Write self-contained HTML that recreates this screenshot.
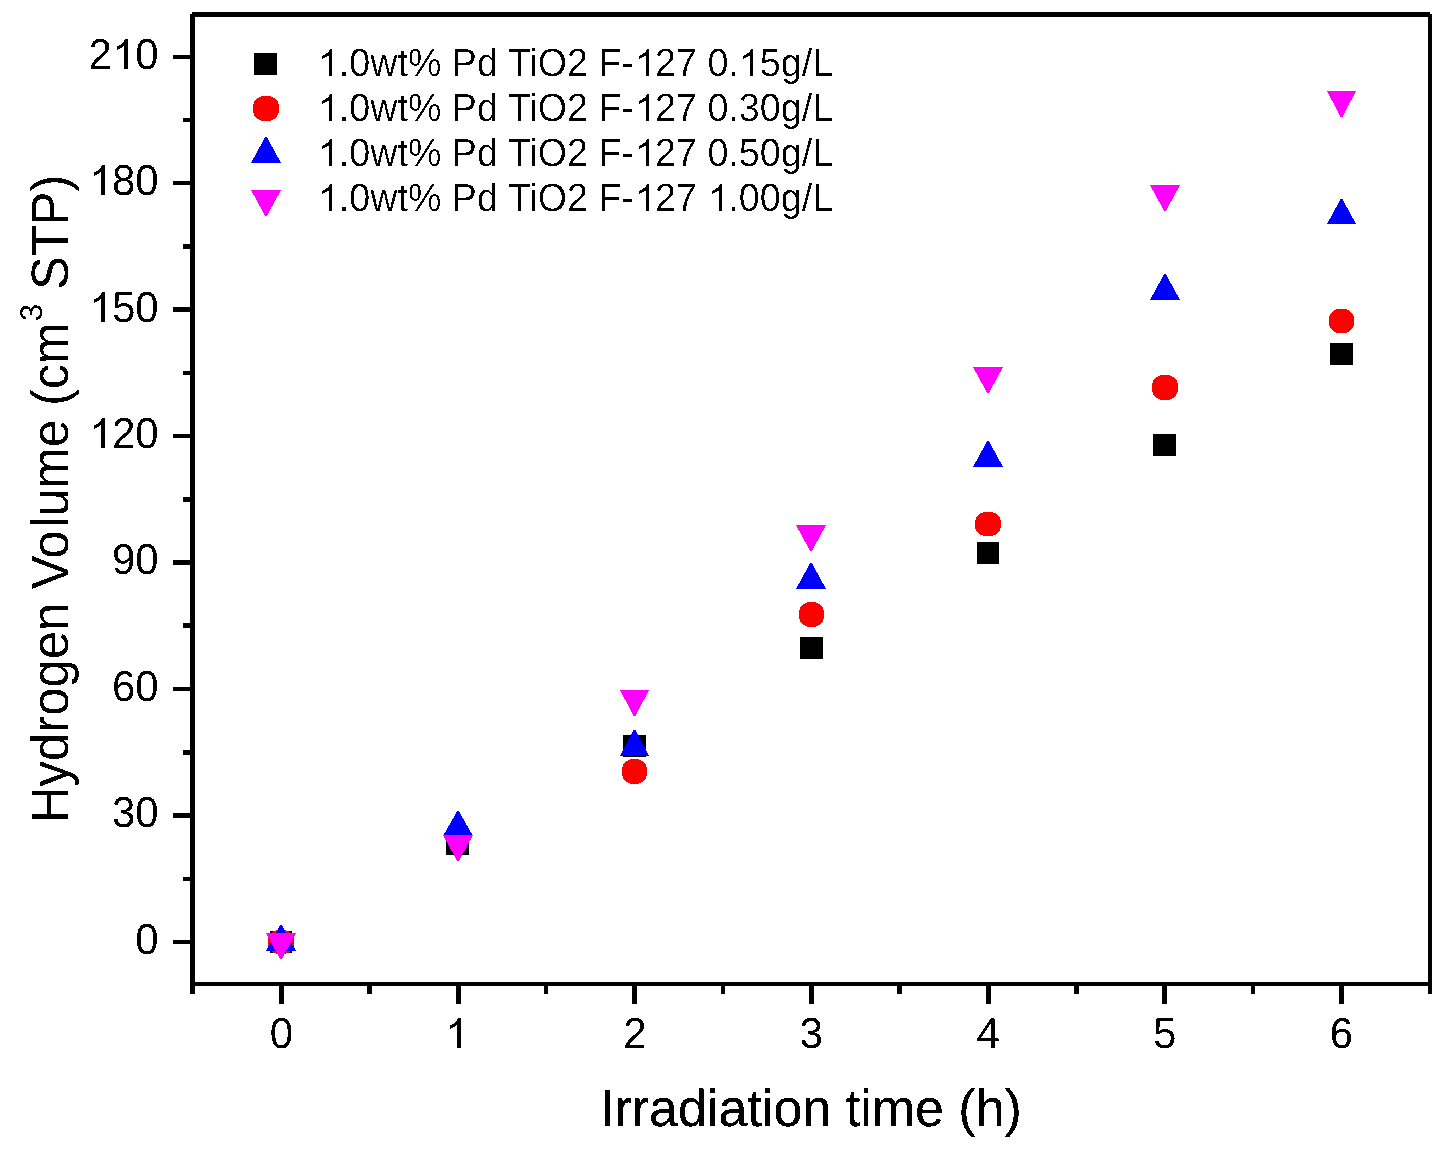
<!DOCTYPE html>
<html><head><meta charset="utf-8"><style>
html,body{margin:0;padding:0;background:#fff;}
body{width:1447px;height:1152px;overflow:hidden;}
svg{display:block;will-change:transform;}
text{font-family:"Liberation Sans",sans-serif;fill:#000;text-rendering:geometricPrecision;}
</style></head><body>
<svg width="1447" height="1152" viewBox="0 0 1447 1152">
<rect width="1447" height="1152" fill="#fff"/>
<g fill="#000" shape-rendering="crispEdges">
<rect x="190" y="14" width="5" height="980"/>
<rect x="192" y="12" width="1238" height="5"/>
<rect x="1428" y="14" width="4" height="980"/>
<rect x="190" y="982" width="1242" height="4"/>
<rect x="173" y="55" width="18" height="4"/>
<rect x="173" y="181" width="18" height="4"/>
<rect x="173" y="307" width="18" height="5"/>
<rect x="173" y="434" width="18" height="4"/>
<rect x="173" y="560" width="18" height="5"/>
<rect x="173" y="687" width="18" height="4"/>
<rect x="173" y="813" width="18" height="5"/>
<rect x="173" y="940" width="18" height="4"/>
<rect x="183" y="877" width="8" height="4"/>
<rect x="183" y="750" width="8" height="5"/>
<rect x="183" y="623" width="8" height="5"/>
<rect x="183" y="497" width="8" height="5"/>
<rect x="183" y="371" width="8" height="4"/>
<rect x="183" y="244" width="8" height="5"/>
<rect x="183" y="118" width="8" height="4"/>
<rect x="279.00" y="985" width="5" height="19"/>
<rect x="455.65" y="985" width="5" height="19"/>
<rect x="632.30" y="985" width="5" height="19"/>
<rect x="808.95" y="985" width="5" height="19"/>
<rect x="985.60" y="985" width="5" height="19"/>
<rect x="1162.25" y="985" width="5" height="19"/>
<rect x="1338.90" y="985" width="5" height="19"/>
<rect x="367" y="985" width="5" height="9"/>
<rect x="544" y="985" width="4" height="9"/>
<rect x="721" y="985" width="4" height="9"/>
<rect x="897" y="985" width="5" height="9"/>
<rect x="1074" y="985" width="5" height="9"/>
<rect x="1251" y="985" width="4" height="9"/>
</g>
<defs><filter id="bin" filterUnits="userSpaceOnUse" x="0" y="0" width="1447" height="1152"><feComponentTransfer><feFuncA type="discrete" tableValues="0 1"/></feComponentTransfer></filter><filter id="bin2" filterUnits="userSpaceOnUse" x="0" y="0" width="1447" height="1152"><feComponentTransfer><feFuncA type="discrete" tableValues="0 0 1"/></feComponentTransfer></filter><filter id="bin3" filterUnits="userSpaceOnUse" x="0" y="0" width="1447" height="1152"><feComponentTransfer><feFuncA type="discrete" tableValues="0 1 1"/></feComponentTransfer></filter></defs>
<g filter="url(#bin)">
<text id="t0" transform="translate(158.60,953.60) scale(1,1.03)" text-anchor="end" font-size="42">0</text>
<text id="t1" transform="translate(158.60,827.19) scale(1,1.03)" text-anchor="end" font-size="42">30</text>
<text id="t2" transform="translate(158.60,700.77) scale(1,1.03)" text-anchor="end" font-size="42">60</text>
<text id="t3" transform="translate(158.60,574.36) scale(1,1.03)" text-anchor="end" font-size="42">90</text>
<text id="t4" transform="translate(158.60,447.94) scale(1,1.03)" text-anchor="end" font-size="42"> 20</text>
<path d="M105 448L101 448L101 424.83Q99.69 426.08 97.56 427.34Q95.42 428.59 93.73 429.21L93.73 425.70Q96.78 424.26 99.06 422.22Q101.34 420.18 102.29 418.27L105 418.27Z"/>
<text id="t5" transform="translate(158.60,321.53) scale(1,1.03)" text-anchor="end" font-size="42"> 50</text>
<path d="M105 322L101 322L101 298.83Q99.69 300.08 97.56 301.34Q95.42 302.59 93.73 303.21L93.73 299.70Q96.78 298.26 99.06 296.22Q101.34 294.18 102.29 292.27L105 292.27Z"/>
<text id="t6" transform="translate(158.60,195.12) scale(1,1.03)" text-anchor="end" font-size="42"> 80</text>
<path d="M105 195L101 195L101 171.83Q99.69 173.08 97.56 174.34Q95.42 175.59 93.73 176.21L93.73 172.70Q96.78 171.26 99.06 169.22Q101.34 167.18 102.29 165.27L105 165.27Z"/>
<text id="t7" transform="translate(158.60,68.70) scale(1,1.03)" text-anchor="end" font-size="42">2 0</text>
<path d="M128 69L124 69L124 45.83Q122.69 47.08 120.56 48.34Q118.42 49.59 116.73 50.21L116.73 46.70Q119.78 45.26 122.06 43.22Q124.34 41.18 125.29 39.27L128 39.27Z"/>
<text id="t8" transform="translate(281.50,1047.60) scale(1,1.03)" text-anchor="middle" font-size="42">0</text>
<text id="t9" transform="translate(458.15,1047.60) scale(1,1.03)" text-anchor="middle" font-size="42"> </text>
<path d="M461 1048L457 1048L457 1024.83Q455.69 1026.08 453.56 1027.34Q451.42 1028.59 449.73 1029.21L449.73 1025.70Q452.78 1024.26 455.06 1022.22Q457.34 1020.18 458.29 1018.27L461 1018.27Z"/>
<text id="t10" transform="translate(634.80,1047.60) scale(1,1.03)" text-anchor="middle" font-size="42">2</text>
<text id="t11" transform="translate(811.45,1047.60) scale(1,1.03)" text-anchor="middle" font-size="42">3</text>
<text id="t12" transform="translate(988.10,1047.60) scale(1,1.03)" text-anchor="middle" font-size="42">4</text>
<text id="t13" transform="translate(1164.75,1047.60) scale(1,1.03)" text-anchor="middle" font-size="42">5</text>
<text id="t14" transform="translate(1341.40,1047.60) scale(1,1.03)" text-anchor="middle" font-size="42">6</text>
</g><g filter="url(#bin2)">
<text id="t15" transform="translate(317.80,75.80) scale(1,1.045)" text-anchor="start" font-size="37.7"> .0wt% Pd TiO2 F- 27 0. 5g/L</text>
<path d="M332 76L329 76L329 55.20Q327.82 56.33 325.65 57.45Q323.38 58.58 321.57 59.14L321.57 55.98Q324.83 54.69 327.26 52.86Q329.31 51.03 330.16 49.31L332 49.31Z"/>
<path d="M649 76L646 76L646 55.20Q644.82 56.33 642.65 57.45Q640.38 58.58 638.57 59.14L638.57 55.98Q641.83 54.69 644.26 52.86Q646.31 51.03 647.16 49.31L649 49.31Z"/>
<path d="M753 76L750 76L750 55.20Q748.82 56.33 746.65 57.45Q744.38 58.58 742.57 59.14L742.57 55.98Q745.83 54.69 748.26 52.86Q750.31 51.03 751.16 49.31L753 49.31Z"/>
<text id="t16" transform="translate(317.80,120.80) scale(1,1.045)" text-anchor="start" font-size="37.7"> .0wt% Pd TiO2 F- 27 0.30g/L</text>
<path d="M332 121L329 121L329 100.20Q327.82 101.33 325.65 102.45Q323.38 103.58 321.57 104.14L321.57 100.98Q324.83 99.69 327.26 97.86Q329.31 96.03 330.16 94.31L332 94.31Z"/>
<path d="M649 121L646 121L646 100.20Q644.82 101.33 642.65 102.45Q640.38 103.58 638.57 104.14L638.57 100.98Q641.83 99.69 644.26 97.86Q646.31 96.03 647.16 94.31L649 94.31Z"/>
<text id="t17" transform="translate(317.80,165.80) scale(1,1.045)" text-anchor="start" font-size="37.7"> .0wt% Pd TiO2 F- 27 0.50g/L</text>
<path d="M332 166L329 166L329 145.20Q327.82 146.33 325.65 147.45Q323.38 148.58 321.57 149.14L321.57 145.98Q324.83 144.69 327.26 142.86Q329.31 141.03 330.16 139.31L332 139.31Z"/>
<path d="M649 166L646 166L646 145.20Q644.82 146.33 642.65 147.45Q640.38 148.58 638.57 149.14L638.57 145.98Q641.83 144.69 644.26 142.86Q646.31 141.03 647.16 139.31L649 139.31Z"/>
<text id="t18" transform="translate(317.80,210.80) scale(1,1.045)" text-anchor="start" font-size="37.7"> .0wt% Pd TiO2 F- 27  .00g/L</text>
<path d="M332 211L329 211L329 190.20Q327.82 191.33 325.65 192.45Q323.38 193.58 321.57 194.14L321.57 190.98Q324.83 189.69 327.26 187.86Q329.31 186.03 330.16 184.31L332 184.31Z"/>
<path d="M649 211L646 211L646 190.20Q644.82 191.33 642.65 192.45Q640.38 193.58 638.57 194.14L638.57 190.98Q641.83 189.69 644.26 187.86Q646.31 186.03 647.16 184.31L649 184.31Z"/>
<path d="M722 211L719 211L719 190.20Q717.82 191.33 715.65 192.45Q713.38 193.58 711.57 194.14L711.57 190.98Q714.83 189.69 717.26 187.86Q719.31 186.03 720.16 184.31L722 184.31Z"/>
</g><g filter="url(#bin3)">
<text x="600" y="1126" font-size="52">Irradiation time (h)</text>
</g><g filter="url(#bin)">
<text transform="translate(68.2,823.1) rotate(-90) scale(0.968,1)" font-size="52.5">Hydrogen</text>
<text transform="translate(68.2,589.3) rotate(-90) scale(0.962,1)" font-size="52.5">Vo</text>
<text transform="translate(68.2,527.6) rotate(-90) scale(0.95,1)" font-size="52.5">lume (cm</text>
<text transform="translate(41.7,321.2) rotate(-90)" font-size="31.4">3</text>
<text transform="translate(68.2,289.8) rotate(-90) scale(0.962,1)" font-size="52.5">STP)</text>
</g>
<defs><filter id="binM" filterUnits="userSpaceOnUse" x="0" y="0" width="1447" height="1152"><feComponentTransfer><feFuncA type="discrete" tableValues="0 1"/></feComponentTransfer></filter></defs>
<g fill="#000" shape-rendering="crispEdges">
<rect x="270" y="931" width="22" height="22"/>
<rect x="446" y="833" width="23" height="22"/>
<rect x="623" y="735" width="23" height="22"/>
<rect x="800" y="637" width="23" height="22"/>
<rect x="977" y="542" width="22" height="22"/>
<rect x="1153" y="434" width="23" height="22"/>
<rect x="1330" y="343" width="23" height="22"/>
<rect x="254" y="53" width="23" height="22"/>
</g><g fill="#f00" filter="url(#binM)">
<polygon points="294.00,942.00 293.96,943.57 293.84,944.79 293.63,945.89 293.34,946.91 292.98,947.85 292.53,948.73 292.01,949.55 291.41,950.30 290.74,950.99 289.99,951.61 289.18,952.16 288.30,952.64 287.34,953.06 286.32,953.39 285.21,953.66 284.02,953.85 282.70,953.96 281.00,954.00 279.30,953.96 277.98,953.85 276.79,953.66 275.68,953.39 274.66,953.06 273.70,952.64 272.82,952.16 272.01,951.61 271.26,950.99 270.59,950.30 269.99,949.55 269.47,948.73 269.02,947.85 268.66,946.91 268.37,945.89 268.16,944.79 268.04,943.57 268.00,942.00 268.04,940.43 268.16,939.21 268.37,938.11 268.66,937.09 269.02,936.15 269.47,935.27 269.99,934.45 270.59,933.70 271.26,933.01 272.01,932.39 272.82,931.84 273.70,931.36 274.66,930.94 275.68,930.61 276.79,930.34 277.98,930.15 279.30,930.04 281.00,930.00 282.70,930.04 284.02,930.15 285.21,930.34 286.32,930.61 287.34,930.94 288.30,931.36 289.18,931.84 289.99,932.39 290.74,933.01 291.41,933.70 292.01,934.45 292.53,935.27 292.98,936.15 293.34,937.09 293.63,938.11 293.84,939.21 293.96,940.43"/>
<polygon points="647.00,771.50 646.96,773.14 646.84,774.41 646.64,775.55 646.37,776.61 646.02,777.60 645.59,778.52 645.09,779.37 644.51,780.15 643.86,780.86 643.15,781.51 642.37,782.09 641.52,782.59 640.60,783.02 639.61,783.37 638.55,783.64 637.41,783.84 636.14,783.96 634.50,784.00 632.86,783.96 631.59,783.84 630.45,783.64 629.39,783.37 628.40,783.02 627.48,782.59 626.63,782.09 625.85,781.51 625.14,780.86 624.49,780.15 623.91,779.37 623.41,778.52 622.98,777.60 622.63,776.61 622.36,775.55 622.16,774.41 622.04,773.14 622.00,771.50 622.04,769.86 622.16,768.59 622.36,767.45 622.63,766.39 622.98,765.40 623.41,764.48 623.91,763.63 624.49,762.85 625.14,762.14 625.85,761.49 626.63,760.91 627.48,760.41 628.40,759.98 629.39,759.63 630.45,759.36 631.59,759.16 632.86,759.04 634.50,759.00 636.14,759.04 637.41,759.16 638.55,759.36 639.61,759.63 640.60,759.98 641.52,760.41 642.37,760.91 643.15,761.49 643.86,762.14 644.51,762.85 645.09,763.63 645.59,764.48 646.02,765.40 646.37,766.39 646.64,767.45 646.84,768.59 646.96,769.86"/>
<polygon points="824.00,614.50 823.96,616.14 823.84,617.41 823.64,618.55 823.37,619.61 823.02,620.60 822.59,621.52 822.09,622.37 821.51,623.15 820.86,623.86 820.15,624.51 819.37,625.09 818.52,625.59 817.60,626.02 816.61,626.37 815.55,626.64 814.41,626.84 813.14,626.96 811.50,627.00 809.86,626.96 808.59,626.84 807.45,626.64 806.39,626.37 805.40,626.02 804.48,625.59 803.63,625.09 802.85,624.51 802.14,623.86 801.49,623.15 800.91,622.37 800.41,621.52 799.98,620.60 799.63,619.61 799.36,618.55 799.16,617.41 799.04,616.14 799.00,614.50 799.04,612.86 799.16,611.59 799.36,610.45 799.63,609.39 799.98,608.40 800.41,607.48 800.91,606.63 801.49,605.85 802.14,605.14 802.85,604.49 803.63,603.91 804.48,603.41 805.40,602.98 806.39,602.63 807.45,602.36 808.59,602.16 809.86,602.04 811.50,602.00 813.14,602.04 814.41,602.16 815.55,602.36 816.61,602.63 817.60,602.98 818.52,603.41 819.37,603.91 820.15,604.49 820.86,605.14 821.51,605.85 822.09,606.63 822.59,607.48 823.02,608.40 823.37,609.39 823.64,610.45 823.84,611.59 823.96,612.86"/>
<polygon points="1001.00,524.00 1000.96,525.57 1000.84,526.79 1000.63,527.89 1000.34,528.91 999.98,529.85 999.53,530.73 999.01,531.55 998.41,532.30 997.74,532.99 996.99,533.61 996.18,534.16 995.30,534.64 994.34,535.06 993.32,535.39 992.21,535.66 991.02,535.85 989.70,535.96 988.00,536.00 986.30,535.96 984.98,535.85 983.79,535.66 982.68,535.39 981.66,535.06 980.70,534.64 979.82,534.16 979.01,533.61 978.26,532.99 977.59,532.30 976.99,531.55 976.47,530.73 976.02,529.85 975.66,528.91 975.37,527.89 975.16,526.79 975.04,525.57 975.00,524.00 975.04,522.43 975.16,521.21 975.37,520.11 975.66,519.09 976.02,518.15 976.47,517.27 976.99,516.45 977.59,515.70 978.26,515.01 979.01,514.39 979.82,513.84 980.70,513.36 981.66,512.94 982.68,512.61 983.79,512.34 984.98,512.15 986.30,512.04 988.00,512.00 989.70,512.04 991.02,512.15 992.21,512.34 993.32,512.61 994.34,512.94 995.30,513.36 996.18,513.84 996.99,514.39 997.74,515.01 998.41,515.70 999.01,516.45 999.53,517.27 999.98,518.15 1000.34,519.09 1000.63,520.11 1000.84,521.21 1000.96,522.43"/>
<polygon points="1178.00,387.50 1177.96,389.14 1177.84,390.41 1177.63,391.55 1177.34,392.61 1176.98,393.60 1176.53,394.52 1176.01,395.37 1175.41,396.15 1174.74,396.86 1173.99,397.51 1173.18,398.09 1172.30,398.59 1171.34,399.02 1170.32,399.37 1169.21,399.64 1168.02,399.84 1166.70,399.96 1165.00,400.00 1163.30,399.96 1161.98,399.84 1160.79,399.64 1159.68,399.37 1158.66,399.02 1157.70,398.59 1156.82,398.09 1156.01,397.51 1155.26,396.86 1154.59,396.15 1153.99,395.37 1153.47,394.52 1153.02,393.60 1152.66,392.61 1152.37,391.55 1152.16,390.41 1152.04,389.14 1152.00,387.50 1152.04,385.86 1152.16,384.59 1152.37,383.45 1152.66,382.39 1153.02,381.40 1153.47,380.48 1153.99,379.63 1154.59,378.85 1155.26,378.14 1156.01,377.49 1156.82,376.91 1157.70,376.41 1158.66,375.98 1159.68,375.63 1160.79,375.36 1161.98,375.16 1163.30,375.04 1165.00,375.00 1166.70,375.04 1168.02,375.16 1169.21,375.36 1170.32,375.63 1171.34,375.98 1172.30,376.41 1173.18,376.91 1173.99,377.49 1174.74,378.14 1175.41,378.85 1176.01,379.63 1176.53,380.48 1176.98,381.40 1177.34,382.39 1177.63,383.45 1177.84,384.59 1177.96,385.86"/>
<polygon points="1354.00,321.00 1353.96,322.57 1353.84,323.79 1353.64,324.89 1353.37,325.91 1353.02,326.85 1352.59,327.73 1352.09,328.55 1351.51,329.30 1350.86,329.99 1350.15,330.61 1349.37,331.16 1348.52,331.64 1347.60,332.06 1346.61,332.39 1345.55,332.66 1344.41,332.85 1343.14,332.96 1341.50,333.00 1339.86,332.96 1338.59,332.85 1337.45,332.66 1336.39,332.39 1335.40,332.06 1334.48,331.64 1333.63,331.16 1332.85,330.61 1332.14,329.99 1331.49,329.30 1330.91,328.55 1330.41,327.73 1329.98,326.85 1329.63,325.91 1329.36,324.89 1329.16,323.79 1329.04,322.57 1329.00,321.00 1329.04,319.43 1329.16,318.21 1329.36,317.11 1329.63,316.09 1329.98,315.15 1330.41,314.27 1330.91,313.45 1331.49,312.70 1332.14,312.01 1332.85,311.39 1333.63,310.84 1334.48,310.36 1335.40,309.94 1336.39,309.61 1337.45,309.34 1338.59,309.15 1339.86,309.04 1341.50,309.00 1343.14,309.04 1344.41,309.15 1345.55,309.34 1346.61,309.61 1347.60,309.94 1348.52,310.36 1349.37,310.84 1350.15,311.39 1350.86,312.01 1351.51,312.70 1352.09,313.45 1352.59,314.27 1353.02,315.15 1353.37,316.09 1353.64,317.11 1353.84,318.21 1353.96,319.43"/>
<polygon points="279.00,108.50 278.96,110.14 278.84,111.41 278.63,112.55 278.34,113.61 277.98,114.60 277.53,115.52 277.01,116.37 276.41,117.15 275.74,117.86 274.99,118.51 274.18,119.09 273.30,119.59 272.34,120.02 271.32,120.37 270.21,120.64 269.02,120.84 267.70,120.96 266.00,121.00 264.30,120.96 262.98,120.84 261.79,120.64 260.68,120.37 259.66,120.02 258.70,119.59 257.82,119.09 257.01,118.51 256.26,117.86 255.59,117.15 254.99,116.37 254.47,115.52 254.02,114.60 253.66,113.61 253.37,112.55 253.16,111.41 253.04,110.14 253.00,108.50 253.04,106.86 253.16,105.59 253.37,104.45 253.66,103.39 254.02,102.40 254.47,101.48 254.99,100.63 255.59,99.85 256.26,99.14 257.01,98.49 257.82,97.91 258.70,97.41 259.66,96.98 260.68,96.63 261.79,96.36 262.98,96.16 264.30,96.04 266.00,96.00 267.70,96.04 269.02,96.16 270.21,96.36 271.32,96.63 272.34,96.98 273.30,97.41 274.18,97.91 274.99,98.49 275.74,99.14 276.41,99.85 277.01,100.63 277.53,101.48 277.98,102.40 278.34,103.39 278.63,104.45 278.84,105.59 278.96,106.86"/>
</g><g fill="#00f" filter="url(#binM)">
<polygon points="280.20,925.00 281.80,925.00 296.00,951.00 266.00,951.00"/>
<polygon points="457.20,811.00 458.80,811.00 473.00,836.00 443.00,836.00"/>
<polygon points="633.70,730.00 635.30,730.00 649.00,756.00 620.00,756.00"/>
<polygon points="810.20,563.00 811.80,563.00 826.00,589.00 796.00,589.00"/>
<polygon points="987.20,441.00 988.80,441.00 1003.00,467.00 973.00,467.00"/>
<polygon points="1164.20,274.00 1165.80,274.00 1180.00,300.00 1150.00,300.00"/>
<polygon points="1340.70,199.00 1342.30,199.00 1356.00,224.00 1327.00,224.00"/>
<polygon points="265.20,137.00 266.80,137.00 281.00,163.00 251.00,163.00"/>
</g><g fill="#f0f" filter="url(#binM)">
<polygon points="266.00,933.00 296.00,933.00 281.80,959.00 280.20,959.00"/>
<polygon points="443.00,835.00 473.00,835.00 458.80,861.00 457.20,861.00"/>
<polygon points="620.00,690.00 649.00,690.00 635.30,716.00 633.70,716.00"/>
<polygon points="796.00,525.00 826.00,525.00 811.80,551.00 810.20,551.00"/>
<polygon points="973.00,367.00 1003.00,367.00 988.80,393.00 987.20,393.00"/>
<polygon points="1150.00,185.00 1180.00,185.00 1165.80,211.00 1164.20,211.00"/>
<polygon points="1327.00,91.00 1356.00,91.00 1342.30,117.00 1340.70,117.00"/>
<polygon points="251.00,190.00 281.00,190.00 266.80,216.00 265.20,216.00"/>
</g>
</svg></body></html>
